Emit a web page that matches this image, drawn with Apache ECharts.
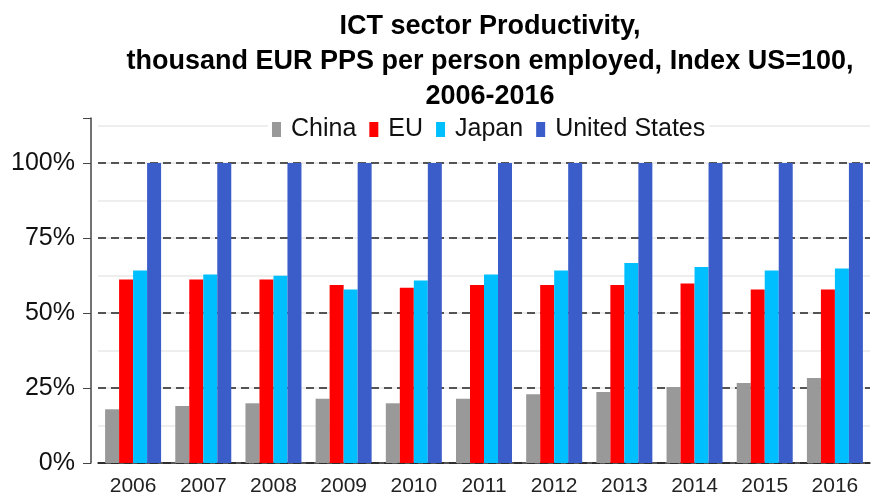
<!DOCTYPE html>
<html>
<head>
<meta charset="utf-8">
<script src="https://cdn.jsdelivr.net/npm/echarts@6/dist/echarts.min.js"></script>
<style>
  html, body { margin: 0; padding: 0; background: #fff; }
  #chart { width: 877px; height: 495px; }
</style>
</head>
<body>
<div id="chart"></div>
<script>
// data (index, US = 100)
const years = ["2006", "2007", "2008", "2009", "2010", "2011", "2012", "2013", "2014", "2015", "2016"];
const china = [17.9, 19.0, 19.9, 21.4, 19.9, 21.4, 22.9, 23.7, 25.3, 26.7, 28.3];
const eu = [61.2, 61.2, 61.2, 59.3, 58.4, 59.3, 59.3, 59.3, 59.8, 57.8, 57.8];
const japan = [64.2, 62.8, 62.4, 57.8, 60.8, 62.8, 64.2, 66.7, 65.3, 64.2, 64.8];
const us = [100, 100, 100, 100, 100, 100, 100, 100, 100, 100, 100];
const seriesNames = ["China", "EU", "Japan", "United States"];
const colors = ["#999999", "#ff0000", "#00bfff", "#3b5dc9"];

const font = "Liberation Sans, Arial, sans-serif";
const chart = echarts.init(document.getElementById("chart"));

const makeBar = (name, data, color) => ({
    name,
    type: "bar",
    yAxisIndex: 1,
    data,
    barWidth: 14,
    barGap: "0%",
    itemStyle: { color },
    animation: false
});

chart.setOption({
    backgroundColor: "#fff",
    color: colors,
    title: {
        text: "ICT sector Productivity,\nthousand EUR PPS per person employed, Index US=100,\n2006-2016",
        left: 485,
        top: 4,
        textAlign: "center",
        textStyle: {
            fontFamily: font,
            fontSize: 27,
            fontWeight: "bold",
            lineHeight: 35,
            color: "#000"
        }
    },
    legend: {
        data: seriesNames,
        left: 268,
        top: 115,
        backgroundColor: "#fff",
        padding: [2, 4],
        itemWidth: 9,
        itemHeight: 15,
        itemGap: 13,
        icon: "rect",
        textStyle: { fontFamily: font, fontSize: 25, color: "#111", padding: [0, 0, 0, 5] }
    },
    grid: {
        left: 98,
        right: 7,
        top: 118,
        bottom: 32,
        outerBoundsMode: "none"
    },
    xAxis: {
        type: "category",
        data: years,
        axisLine: { lineStyle: { color: "#222", width: 1.5 } },
        axisTick: { alignWithLabel: true, length: 6, lineStyle: { color: "#222" } },
        axisLabel: { fontFamily: font, fontSize: 21, color: "#222", margin: 13 }
    },
    yAxis: [
        {
            // light minor grid lines
            type: "value",
            position: "left",
            min: 0,
            max: 115,
            interval: 12.5,
            axisLine: { show: false },
            axisTick: { show: false },
            axisLabel: { show: false },
            splitLine: { showMaxLine: false, lineStyle: { color: "#e8e8e8", width: 1.5 } }
        },
        {
            type: "value",
            position: "left",
            min: 0,
            max: 115,
            interval: 25,
            offset: 7,
            axisLine: { show: true, lineStyle: { color: "#444", width: 1.5 } },
            axisTick: { show: true, length: 8, lineStyle: { color: "#444" } },
            axisLabel: {
                fontFamily: font,
                fontSize: 25,
                color: "#111",
                margin: 16,
                formatter: v => (v <= 100 ? v + "%" : "")
            },
            splitLine: {
                showMaxLine: false,
                lineStyle: { color: "#222", width: 1.5, type: [8, 5] }
            }
        }
    ],
    series: [
        makeBar(seriesNames[0], china, colors[0]),
        makeBar(seriesNames[1], eu, colors[1]),
        makeBar(seriesNames[2], japan, colors[2]),
        makeBar(seriesNames[3], us, colors[3])
    ]
});
</script>
</body>
</html>
